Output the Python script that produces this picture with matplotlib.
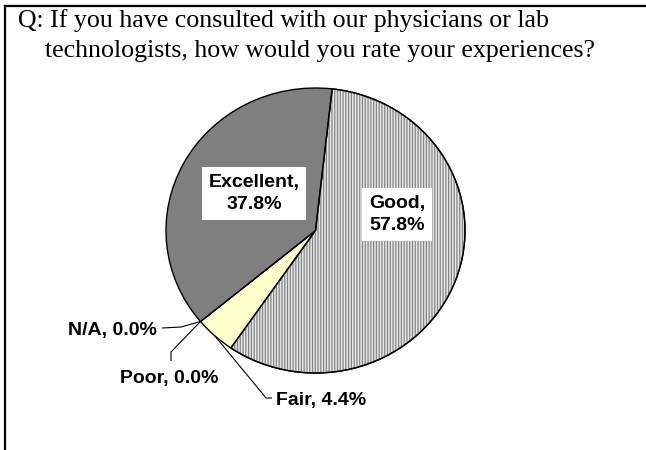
import matplotlib
matplotlib.use("Agg")
import matplotlib.pyplot as plt
import numpy as np
from matplotlib.lines import Line2D
from matplotlib.patches import Wedge

# ---- data ----
categories = ["Good", "Fair", "Poor", "N/A", "Excellent"]
values = [57.8, 4.4, 0.0, 0.0, 37.8]
colors = ["#e6e6e6", "#ffffcc", "#ffffff", "#ffffff", "#7f7f7f"]
title_lines = ["Q: If you have consulted with our physicians or lab",
               "technologists, how would you rate your experiences?"]

W, H = 646, 450
fig = plt.figure(figsize=(W / 100, H / 100), dpi=100)
fig.patch.set_facecolor("white")

# pie geometry in pixels (layout)
cx, cy, rx, ry = 315.5, 230.5, 149.5, 142.5
ax = fig.add_axes([0, 0, 1, 1])
plt.rcParams["hatch.linewidth"] = 0.9


def P(px, py):
    return ((px - cx) / rx, (cy - py) / ry)


startangle = 83.6
wedges, _ = ax.pie(values, colors=colors, startangle=startangle, counterclock=False,
                   wedgeprops=dict(edgecolor="black", linewidth=1.0))
ax.set_aspect("auto")
ax.set_xlim(-cx / rx, (W - cx) / rx)
ax.set_ylim(-(H - cy) / ry, cy / ry)
ax.axis("off")

# hatch overlay for "Good"
g = wedges[0]
hw = Wedge(g.center, g.r, g.theta1, g.theta2, facecolor="none", edgecolor="#858585",
           linewidth=0, hatch="||||||", zorder=g.get_zorder() + 0.1)
ax.add_patch(hw)
ow = Wedge(g.center, g.r, g.theta1, g.theta2, facecolor="none", edgecolor="black",
           linewidth=1.0, zorder=g.get_zorder() + 0.2)
ax.add_patch(ow)

lab = dict(family="Liberation Sans", fontweight="bold", fontsize=14, color="black")
box = dict(boxstyle="square,pad=0.35", facecolor="white", edgecolor="none")

def fmt(i):
    return f"{categories[i]},\n{values[i]:.1f}%"

ax.text(*P(254, 193.5), fmt(4), ha="center", va="center", bbox=box, linespacing=1.45, zorder=5, **lab)
ax.text(*P(397, 214.5), fmt(0), ha="center", va="center", bbox=box, linespacing=1.45, zorder=5, **lab)

# outer labels
ax.text(*P(157, 330), f"{categories[3]}, {values[3]:.1f}%", ha="right", va="center", **lab)
ax.text(*P(169, 379), f"{categories[2]}, {values[2]:.1f}%", ha="center", va="center", **lab)
ax.text(*P(276, 401), f"{categories[1]}, {values[1]:.1f}%", ha="left", va="center", **lab)

# leader lines
def edge_point(theta_deg):
    t = np.deg2rad(theta_deg)
    return (np.cos(t), np.sin(t))

fair = wedges[1]
e_na = edge_point(fair.theta1)
e_fair = edge_point((fair.theta1 + fair.theta2) / 2)

def leader(pts):
    xs = [p[0] for p in pts]
    ys = [p[1] for p in pts]
    ax.plot(xs, ys, color="black", linewidth=0.8, zorder=6, solid_capstyle="butt")

leader([P(162, 328), P(181, 327), e_na])
leader([P(171, 361), P(171, 352), e_na])
leader([P(272, 398), P(266, 398), P(262, 393), e_fair])

# title
fig.text(18 / W, 1 - 21 / H, title_lines[0], family="Liberation Serif", fontsize=18.6,
         ha="left", va="center")
fig.text(45 / W, 1 - 51 / H, title_lines[1], family="Liberation Serif", fontsize=18.6,
         ha="left", va="center")

# frame
fig.add_artist(Line2D([4.5 / W, 4.5 / W], [0, 1 - 5.5 / H], color="black", linewidth=1.6,
                      transform=fig.transFigure))
fig.add_artist(Line2D([4.5 / W, 1], [1 - 5.5 / H, 1 - 5.5 / H], color="black", linewidth=1.6,
                      transform=fig.transFigure))

fig.savefig("out.png", dpi=100)
